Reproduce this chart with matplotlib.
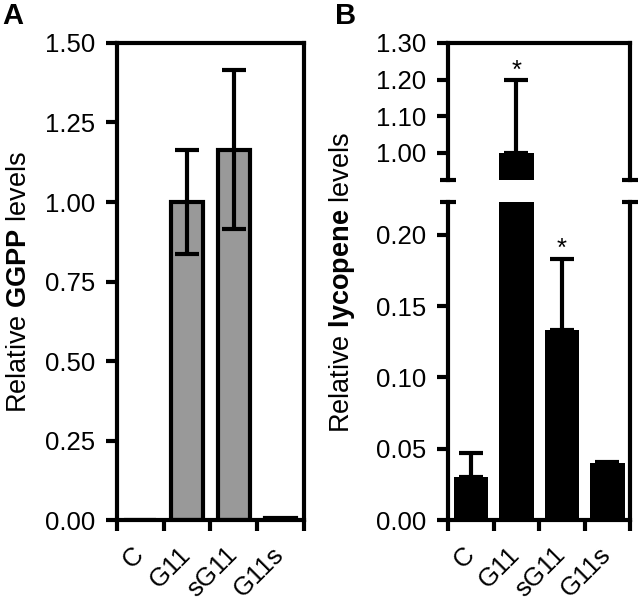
import matplotlib
matplotlib.use("Agg")
import matplotlib.pyplot as plt
import numpy as np

plt.rcParams['font.family'] = ['Liberation Sans', 'DejaVu Sans']
plt.rcParams['mathtext.fontset'] = 'custom'
plt.rcParams['mathtext.rm'] = 'Liberation Sans'
plt.rcParams['mathtext.bf'] = 'Liberation Sans:bold'

categories = ['C', 'G11', 'sG11', 'G11s']

# panel A: GGPP
ggpp = [0.0, 1.00, 1.165, 0.006]
ggpp_err = [0.0, 0.165, 0.25, 0.0]

# panel B: lycopene (upper error only)
lyco = [0.030, 1.00, 0.133, 0.040]
lyco_err = [0.017, 0.20, 0.050, 0.001]
stars = {1: 1.225, 2: 0.19}

FS = 18.5
LFS = 19.5
LW = 3.0
x = np.arange(len(categories))

fig = plt.figure(figsize=(6.41, 6.03), dpi=100)

def style_x(ax, labels=True):
    ax.set_xlim(-0.5, 3.5)
    ax.set_xticks(np.arange(-0.5, 4.0, 1.0))
    ax.set_xticklabels([])
    ax.tick_params(axis='x', which='major', direction='out', length=8, width=LW)
    if labels:
        ax.set_xticks(x, minor=True)
        ax.set_xticklabels(categories, minor=True, rotation=45, ha='right',
                           va='center', rotation_mode='anchor', fontsize=FS)
        ax.tick_params(axis='x', which='minor', length=0, pad=22)

def style_y(ax):
    ax.tick_params(axis='y', direction='out', length=8, width=LW, labelsize=FS, pad=8)
    for s in ax.spines.values():
        s.set_linewidth(LW)

# ---- A ----
axA = fig.add_axes([0.1825, 0.1376, 0.2915, 0.7911])
axA.bar(x, ggpp, width=0.68, color='#999999', edgecolor='black', linewidth=LW)
axA.errorbar(x[1:3], ggpp[1:3], yerr=ggpp_err[1:3], fmt='none', ecolor='black',
             elinewidth=LW, capsize=8.5, capthick=LW)
axA.set_ylim(0, 1.5)
axA.set_yticks(np.arange(0, 1.51, 0.25))
axA.set_yticklabels([f'{v:.2f}' for v in np.arange(0, 1.51, 0.25)])
style_x(axA)
style_y(axA)
fig.text(0.030, 0.532, r'Relative $\mathbf{GGPP}$ levels', rotation=90,
         ha='center', va='center', fontsize=LFS)
fig.text(0.003, 0.974, 'A', fontsize=21, fontweight='bold', ha='left', va='center')

# ---- B ----
axU = fig.add_axes([0.699, 0.7015, 0.284, 0.2272])
axL = fig.add_axes([0.699, 0.1376, 0.284, 0.5274])

lo = [0] * len(lyco)
for ax in (axU, axL):
    ax.bar(x, lyco, width=0.76, color='black', edgecolor='black', linewidth=0)
    ax.errorbar(x, lyco, yerr=[lo, lyco_err], fmt='none', ecolor='black',
                elinewidth=LW, capsize=8.5, capthick=LW)
    style_y(ax)

axU.set_ylim(0.925, 1.30)
axU.set_yticks([1.00, 1.10, 1.20, 1.30])
axU.set_yticklabels(['1.00', '1.10', '1.20', '1.30'])
axU.spines['bottom'].set_visible(False)
axU.set_xlim(-0.5, 3.5)
axU.set_xticks([])

axL.set_ylim(0, 0.223)
axL.set_yticks(np.arange(0, 0.21, 0.05))
axL.set_yticklabels([f'{v:.2f}' for v in np.arange(0, 0.21, 0.05)])
axL.spines['top'].set_visible(False)
style_x(axL)

# break caps on spines
for ax, yy in ((axU, 0), (axL, 1)):
    for xx in (0, 1):
        ax.plot([xx - 0.045, xx + 0.045], [yy, yy], color='black', lw=LW,
                transform=ax.transAxes, clip_on=False, solid_capstyle='butt')

axU.text(1, stars[1], '*', ha='center', va='center', fontsize=FS)
axL.text(2, stars[2], '*', ha='center', va='center', fontsize=FS)

fig.text(0.534, 0.532, r'Relative $\mathbf{lycopene}$ levels', rotation=90,
         ha='center', va='center', fontsize=LFS)
fig.text(0.522, 0.974, 'B', fontsize=21, fontweight='bold', ha='left', va='center')

fig.savefig('out.png', dpi=100)
